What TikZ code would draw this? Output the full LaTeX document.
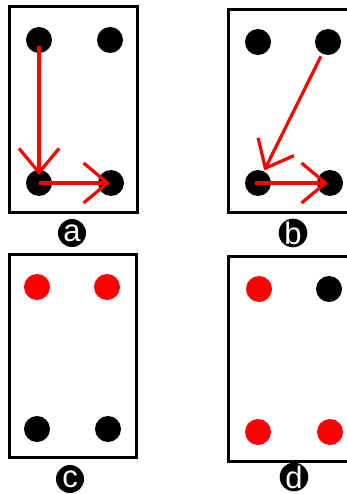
\documentclass[tikz,border=0pt]{standalone}
\usepackage{fontspec}
\setmainfont{Liberation Sans}
\usetikzlibrary{arrows.meta}
\begin{document}
\begin{tikzpicture}[x=1pt,y=-1pt,
  frame/.style={draw=black,line width=3pt,line join=miter},
  bar/.style={circle,inner sep=0pt,minimum size=26pt},
  blk/.style={bar,fill=black},
  rd/.style={bar,fill=red},
  arr/.style={draw=red,line width=3.2pt,-{Straight Barb[length=24pt,width=40pt]}},
  lab/.style={circle,fill=black,inner sep=0pt,minimum size=28pt,text=white,
    font=\fontsize{31}{31}\selectfont}]
\useasboundingbox (0,0) rectangle (346,494);
\fill[white] (0,0) rectangle (346,494);
% frames
\draw[frame] (9,7) rectangle (137,212);
\draw[frame] (352,10) -- (228,10) -- (228,212) -- (352,212);
\draw[frame] (9,254) rectangle (136,457);
\draw[frame] (352,256) -- (228,256) -- (228,461) -- (352,461);
% panel a
\node[blk] (a1) at (39,40) {};
\node[blk] (a2) at (110,40) {};
\node[blk] (a3) at (39,183) {};
\node[blk] (a4) at (111,183) {};
% panel b
\node[blk] (b1) at (258,42) {};
\node[blk] (b2) at (328,42) {};
\node[blk] (b3) at (258,183) {};
\node[blk] (b4) at (330,183) {};
% panel c
\node[rd] (c1) at (37,287) {};
\node[rd] (c2) at (107,287) {};
\node[blk] (c3) at (37,429) {};
\node[blk] (c4) at (108,429) {};
% panel d
\node[rd] (d1) at (259,289) {};
\node[blk] (d2) at (329,289) {};
\node[rd] (d3) at (258,432) {};
\node[rd] (d4) at (330,432) {};
% arrows
\draw[arr] ([yshift=-6pt]a1.center) -- ([yshift=8pt]a3.center);
\draw[arr] (a3.center) -- ([xshift=-1pt]a4.center);
\draw[arr,shorten <=16pt,shorten >=14pt] (b2.center) -- (b3.center);
\draw[arr] ([xshift=-3pt]b3.center) -- ([xshift=-2pt]b4.center);
% labels
\node[lab] (la) at (72,233) {a};
\node[lab] (lb) at (293,233) {b};
\node[lab] (lc) at (70,479) {c};
\node[lab] (ld) at (294,477) {d};
\end{tikzpicture}
\end{document}
